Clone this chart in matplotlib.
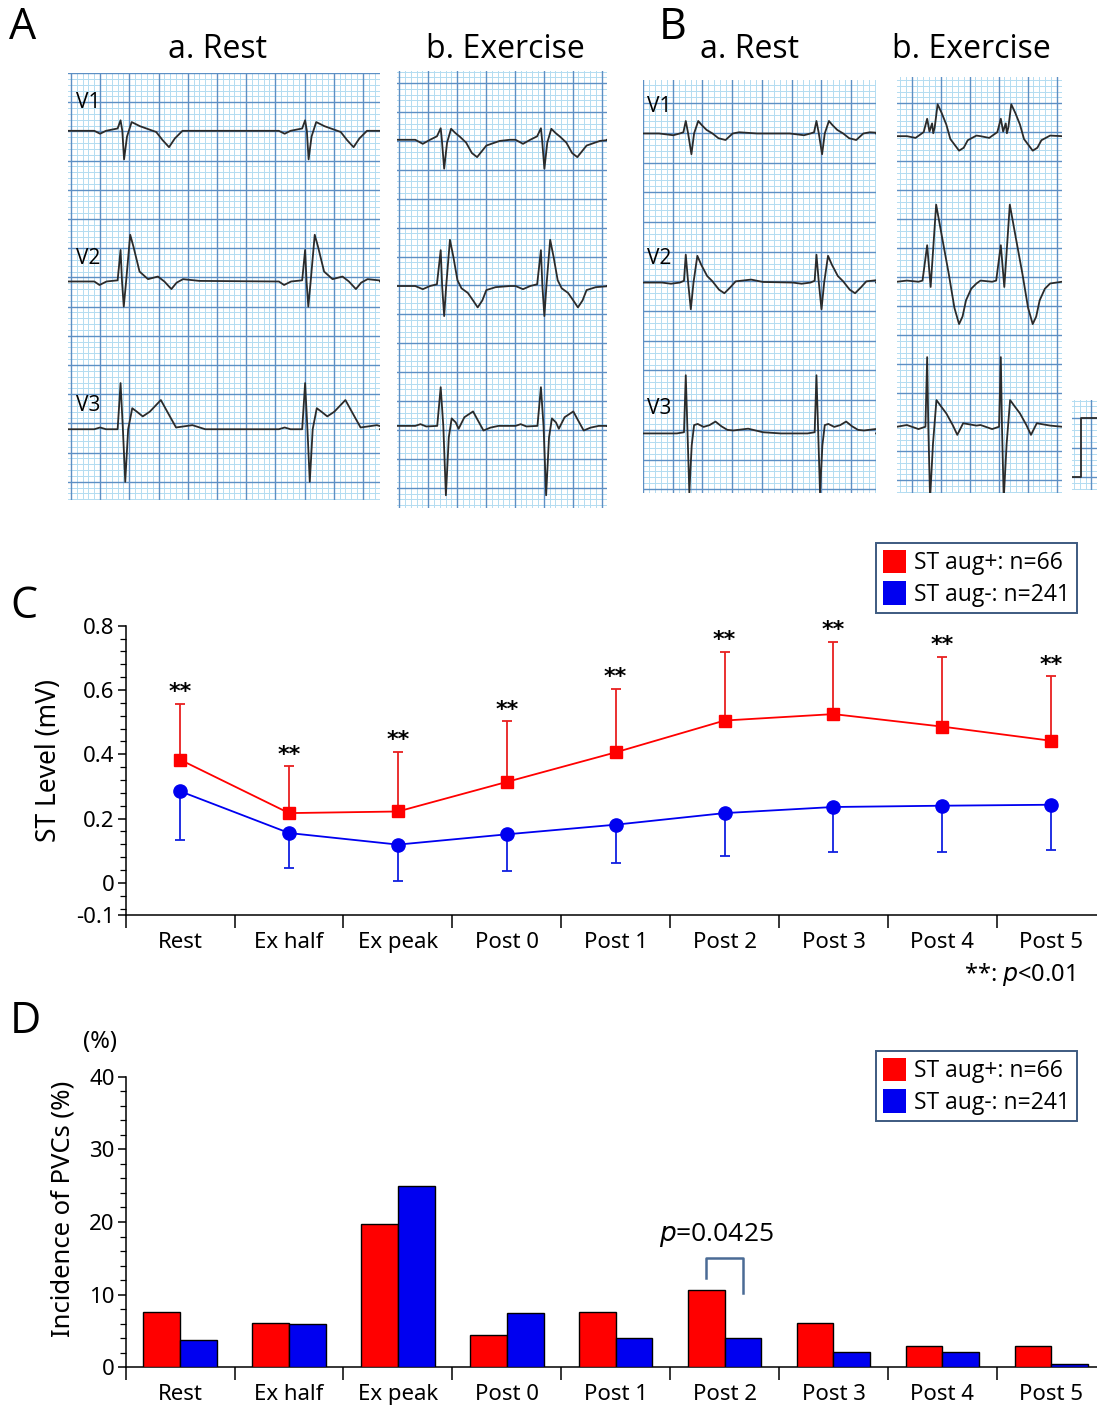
"""Figure: resting/exercise ECG strips (A, B), ST level time course (C), PVC incidence (D)."""

import numpy as np
import matplotlib
matplotlib.use("Agg")
import matplotlib.pyplot as plt
from matplotlib.patches import Patch
from matplotlib.ticker import FixedLocator, MultipleLocator

plt.rcParams["font.family"] = ["Noto Sans", "DejaVu Sans"]
plt.rcParams["mathtext.fontset"] = "dejavusans"

W, H = 1097, 1405
LABEL_FONT = ["Open Sans", "DejaVu Sans"]

STAGES = ["Rest", "Ex half", "Ex peak", "Post 0", "Post 1",
          "Post 2", "Post 3", "Post 4", "Post 5"]
GROUPS = ["ST aug+: n=66", "ST aug-: n=241"]

# panel C: mean ST level (mV) and one-sided SD
ST_POS = [0.383, 0.217, 0.222, 0.314, 0.406, 0.505, 0.525, 0.486, 0.442]
ST_POS_SD = [0.173, 0.145, 0.185, 0.188, 0.197, 0.214, 0.225, 0.218, 0.200]
ST_NEG = [0.285, 0.155, 0.119, 0.151, 0.181, 0.217, 0.236, 0.240, 0.243]
ST_NEG_SD = [0.153, 0.108, 0.114, 0.115, 0.119, 0.132, 0.141, 0.144, 0.140]

# panel D: incidence of PVCs (%)
PVC_POS = [7.6, 6.1, 19.7, 4.5, 7.6, 10.6, 6.1, 3.0, 3.0]
PVC_NEG = [3.7, 5.9, 24.9, 7.5, 4.1, 4.1, 2.1, 2.1, 0.4]

# ECG beat shapes, (time mm from R, amplitude mm)
A_REST_V1 = [(-9, 0), (-4.5, 0), (-3.5, -0.5), (-2.5, 0), (-0.5, 0.4), (0, 1.8),
             (0.3, 0), (0.6, -4.9), (1.1, -1.0), (1.9, 1.5), (3.3, 0.8),
             (6.1, -0.2), (7.2, -1.6), (8.3, -2.8), (9.3, -1.3), (10.6, 0)]
A_REST_V2 = [(-4.5, 0), (-3.6, -0.6), (-2.4, 0), (-0.5, 0.2), (0, 5.4),
             (0.25, 0), (0.55, -4.3), (0.95, 0), (1.65, 8.0), (2.2, 6.0),
             (3.25, 1.7), (4.7, 0.4), (6.4, 0.85), (7.5, 0), (8.7, -1.3),
             (9.6, -0.2), (10.7, 0.4), (13.5, 0.1)]
A_REST_V3 = [(-4.5, 0), (-3.5, 0.3), (-2.5, 0), (-0.5, 0), (0, 7.9), (0.4, 0),
             (0.8, -9.0), (1.3, 0), (2.0, 3.6), (2.8, 3.0), (3.8, 2.2),
             (5.0, 3.0), (6.9, 5.0), (8.0, 3.0), (9.5, 0.3), (12.3, 0.7),
             (14.5, 0)]
A_EX_V1 = [(-4.4, 0), (-3.1, -0.7), (-1.85, 0), (-0.65, 0.6), (0, 2.0),
           (0.2, 0), (0.6, -5.0), (1.1, -0.5), (1.8, 1.9), (2.5, 1.2),
           (3.35, 0.5), (4.4, -0.5), (5.4, -2.3), (6.3, -3.0), (7.1, -2.0),
           (7.9, -1.0), (10.2, -0.2), (12, 0)]
A_EX_V2 = [(-4.4, 0), (-3.1, -0.55), (-1.85, 0), (-0.65, 0.3), (0, 6.2),
           (0.25, 0), (0.6, -5.2), (0.95, 0), (1.6, 8.0), (2.2, 5.0),
           (2.9, 1.0), (3.6, -0.4), (4.7, -1.2), (5.6, -2.5), (6.4, -3.7),
           (7.2, -2.5), (7.9, -0.7), (9.5, -0.2), (12, 0)]
A_EX_V3 = [(-4.4, 0), (-3.5, 0.3), (-2.5, -0.1), (-0.6, 0), (0, 6.7),
           (0.45, 0), (0.9, -12.0), (1.4, -2.0), (1.9, 1.3), (2.6, 0.6),
           (3.1, -0.5), (4.1, 1.5), (5.6, 2.5), (6.3, 1.2), (7.4, -0.8),
           (8.6, -0.3), (10, 0), (12, 0)]
B_REST_V1 = [(-4.5, 0), (-2.1, -0.3), (-1.0, 0), (-0.4, 0.2), (0, 2.1),
             (0.4, 0), (0.95, -3.5), (1.4, 0), (2.1, 2.1), (2.7, 1.4),
             (3.5, 0.6), (4.5, 0), (5.5, -0.8), (6.7, -1.1), (7.9, 0),
             (9, 0.2), (12, 0)]
B_REST_V2 = [(-4, 0), (-2.5, -0.2), (-1.0, 0), (-0.3, 0.3), (0, 4.7), (0.4, 0),
             (0.85, -4.5), (1.3, 0), (1.95, 4.5), (2.6, 3.0), (3.6, 1.1),
             (4.5, 0.2), (5.6, -1.2), (6.5, -1.8), (7.5, -0.8), (8.4, 0.2),
             (11, 0.5), (13, 0.1)]
B_REST_V3 = [(-4, 0), (-1.5, 0), (-0.3, 0.2), (0, 9.8), (0.3, 0), (0.6, -10.0),
             (1.0, -2.0), (1.4, 1.4), (2.0, 1.6), (3.0, 1.1), (4.0, 1.4),
             (5.0, 2.0), (6.0, 1.2), (7.0, 0.6), (8.0, 0.5), (10.5, 0.8),
             (13, 0.2), (16, 0)]
B_EX_V1 = [(-3.5, 0), (-2.0, -0.3), (-0.6, 0.7), (0, 3.0), (0.4, 0.8),
           (0.85, 2.2), (1.05, 0.5), (1.3, 1.5), (1.8, 5.5), (2.5, 4.0),
           (3.3, 2.0), (4.0, -0.5), (5.5, -2.5), (6.3, -2.0), (7.0, -0.7),
           (8.5, 0.1)]
B_EX_V2 = [(-3.5, 0.2), (-1.5, 0), (-0.8, 0.2), (0, 6.3), (0.6, -0.9),
           (1.55, 13.3), (2.6, 7.5), (3.7, 1.5), (4.7, -4.5), (5.5, -7.3),
           (6.1, -6.0), (6.7, -3.2), (7.6, -1.2), (8.5, -0.3)]
B_EX_V3 = [(-3.5, 0.3), (-1.5, -0.4), (-0.3, 0), (0, 12.0), (0.2, 0),
           (0.5, -12.5), (1.0, -3.0), (1.6, 4.6), (2.4, 3.5), (3.3, 2.3),
           (4.4, 0.3), (5.2, -1.4), (6.2, 0.6), (8.5, 0.2)]
CAL_PULSE = [(0, 0), (1.6, 0), (1.6, 10), (6, 10)]

fig = plt.figure(figsize=(W / 100, H / 100), dpi=100)


def px_axes(x0, y0, x1, y1):
    """Axes from a pixel box (top-left origin)."""
    return fig.add_axes([x0 / W, 1 - y1 / H, (x1 - x0) / W, (y1 - y0) / H])


def draw_strip(box, scale, grid_off, baselines, r_times, beats):
    x0, y0, x1, y1 = box
    width = (x1 - x0) / scale
    height = (y1 - y0) / scale
    ax = px_axes(*box)
    ax.set_xlim(0, width)
    ax.set_ylim(-height, 0)
    ax.axis("off")

    for off, limit, vertical in ((grid_off[0], width, True),
                                 (grid_off[1], height, False)):
        k = np.arange(-10, int(limit) + 12)
        pos = off + k
        keep = (pos >= 0) & (pos <= limit)
        for p, kk in zip(pos[keep], k[keep]):
            major = kk % 5 == 0
            style = dict(color="#5d8fc4" if major else "#b3dcf1",
                         lw=1.0 if major else 0.7,
                         zorder=2 if major else 1)
            if vertical:
                ax.axvline(p, **style)
            else:
                ax.axhline(-p, **style)

    for base, beat in zip(baselines, beats):
        ts, vs = [0.0], [0.0]
        for r in r_times:
            ts += [r + t for t, _ in beat]
            vs += [v for _, v in beat]
        ts.append(width)
        vs.append(0.0)
        ax.plot(ts, np.array(vs) - base, color="#2b2b2b", lw=1.3, zorder=3,
                solid_joinstyle="round")
    return ax


# A: rest and exercise
draw_strip((68, 73, 380, 500), 5.84, (0.5, 0.0), [9.9, 35.7, 61.0],
           [9.0, 40.6], [A_REST_V1, A_REST_V2, A_REST_V3])
draw_strip((397, 71, 607, 508), 5.78, (0.4, 2.1), [11.9, 37.2, 61.4],
           [7.56, 24.9], [A_EX_V1, A_EX_V2, A_EX_V3])
# B: rest and exercise
draw_strip((643, 80, 876, 493), 5.94, (0.0, 3.9), [9.0, 34.1, 59.5],
           [7.2, 29.2], [B_REST_V1, B_REST_V2, B_REST_V3])
draw_strip((897, 77, 1062, 493), 5.8, (2.5, 4.5), [10.2, 35.3, 60.3],
           [5.2, 17.9], [B_EX_V1, B_EX_V2, B_EX_V3])
# calibration pulse at the right edge
draw_strip((1072, 400, 1100, 490), 5.9, (3.3, 3.1), [13.1],
           [0.0], [CAL_PULSE])

for label, x, y in (("V1", 76, 103), ("V2", 76, 259), ("V3", 76, 405),
                    ("V1", 647, 106), ("V2", 647, 258), ("V3", 647, 409)):
    fig.text(x / W, 1 - y / H, label, fontsize=15, family=LABEL_FONT,
             ha="left", va="center", zorder=5)

for label, x, y in (("A", 23, 28), ("B", 673, 28), ("C", 24, 607),
                    ("D", 25, 1022)):
    fig.text(x / W, 1 - y / H, label, fontsize=31, family=LABEL_FONT,
             ha="center", va="center")

for label, x in (("a. Rest", 218), ("b. Exercise", 505),
                 ("a. Rest", 749), ("b. Exercise", 971)):
    fig.text(x / W, 1 - 50 / H, label, fontsize=23, family=LABEL_FONT,
             ha="center", va="center")

RED = "#ff0000"
BLUE = "#0000f0"
x = np.arange(len(STAGES))


def style_axis(ax):
    ax.set_xlim(-0.5, len(STAGES) - 0.5)
    for side in ("top", "right"):
        ax.spines[side].set_visible(False)
    for side in ("left", "bottom"):
        ax.spines[side].set_linewidth(1.1)
    ax.set_xticks(x)
    ax.set_xticklabels(STAGES, fontsize=16)
    ax.xaxis.set_minor_locator(FixedLocator(np.arange(-0.5, len(STAGES), 1.0)))
    ax.tick_params(axis="x", which="major", length=0, pad=12)
    ax.tick_params(axis="x", which="minor", length=9, width=1.1)
    ax.tick_params(axis="y", which="major", length=6, width=1.1,
                   labelsize=16, pad=2)
    ax.tick_params(axis="y", which="minor", length=4, width=0.9)


def add_legend(top):
    handles = [Patch(facecolor=RED), Patch(facecolor=BLUE)]
    leg = fig.legend(handles, GROUPS, loc="upper right",
                     bbox_to_anchor=(1077 / W, 1 - top / H), frameon=True,
                     fancybox=False, edgecolor="#3d5a80", framealpha=1,
                     prop={"family": LABEL_FONT, "size": 16.5},
                     handlelength=1.0, handleheight=1.2, handletextpad=0.35,
                     borderpad=0.3, labelspacing=0.25, borderaxespad=0)
    leg.get_frame().set_linewidth(1.4)


# C: ST level
axc = px_axes(125.7, 625.7, 1105.7, 915.0)
axc.errorbar(x, ST_POS, yerr=[np.zeros(len(x)), ST_POS_SD], color=RED,
             ecolor="#e82020", marker="s", ms=9, lw=1.3, elinewidth=1.3,
             capsize=3.4, capthick=1.3, zorder=3)
axc.errorbar(x, ST_NEG, yerr=[ST_NEG_SD, np.zeros(len(x))], color=BLUE,
             ecolor="#1020e0", marker="o", ms=9.5, lw=1.3, elinewidth=1.3,
             capsize=3.4, capthick=1.3, zorder=3)
for xi, m, sd in zip(x, ST_POS, ST_POS_SD):
    axc.text(xi, m + sd + 0.037, "**", ha="center", va="center",
             fontsize=16, fontweight="bold", family="DejaVu Sans")
axc.set_ylim(-0.1, 0.8)
axc.set_yticks([-0.1, 0, 0.2, 0.4, 0.6, 0.8])
axc.set_yticklabels(["-0.1", "0", "0.2", "0.4", "0.6", "0.8"])
axc.yaxis.set_minor_locator(MultipleLocator(0.04))
style_axis(axc)
fig.text(49 / W, 1 - 761 / H, "ST Level (mV)", rotation=90, fontsize=19,
         ha="center", va="center")
fig.text(1075 / W, 1 - 975 / H, r"**: $p$<0.01", fontsize=17,
         ha="right", va="center")
add_legend(543)

# D: PVC incidence
axd = px_axes(125.7, 1076.7, 1105.7, 1367.3)
bw = 0.337
axd.bar(x - bw / 2, PVC_POS, bw, color=RED, edgecolor="black", lw=1.0,
        zorder=3)
axd.bar(x + bw / 2, PVC_NEG, bw, color=BLUE, edgecolor="black", lw=1.0,
        zorder=3)
axd.set_ylim(0, 40)
axd.set_yticks([0, 10, 20, 30, 40])
axd.yaxis.set_minor_locator(MultipleLocator(2))
style_axis(axd)
# significance bracket at Post 2
i = STAGES.index("Post 2")
axd.plot([i - bw / 2, i - bw / 2, i + bw / 2, i + bw / 2],
         [12.25, 15.0, 15.0, 10.2], color="#4a6b95", lw=1.8, zorder=4)
axd.text(i - 0.08, 18.2, r"$p$=0.0425", ha="center", va="center",
         fontsize=19, family=LABEL_FONT)
fig.text(63 / W, 1 - 1209 / H, "Incidence of PVCs (%)", rotation=90,
         fontsize=18.5, ha="center", va="center")
fig.text(100 / W, 1 - 1042 / H, "(%)", fontsize=17, ha="center",
         va="center")
add_legend(1051)

fig.savefig("out.png", dpi=100)
